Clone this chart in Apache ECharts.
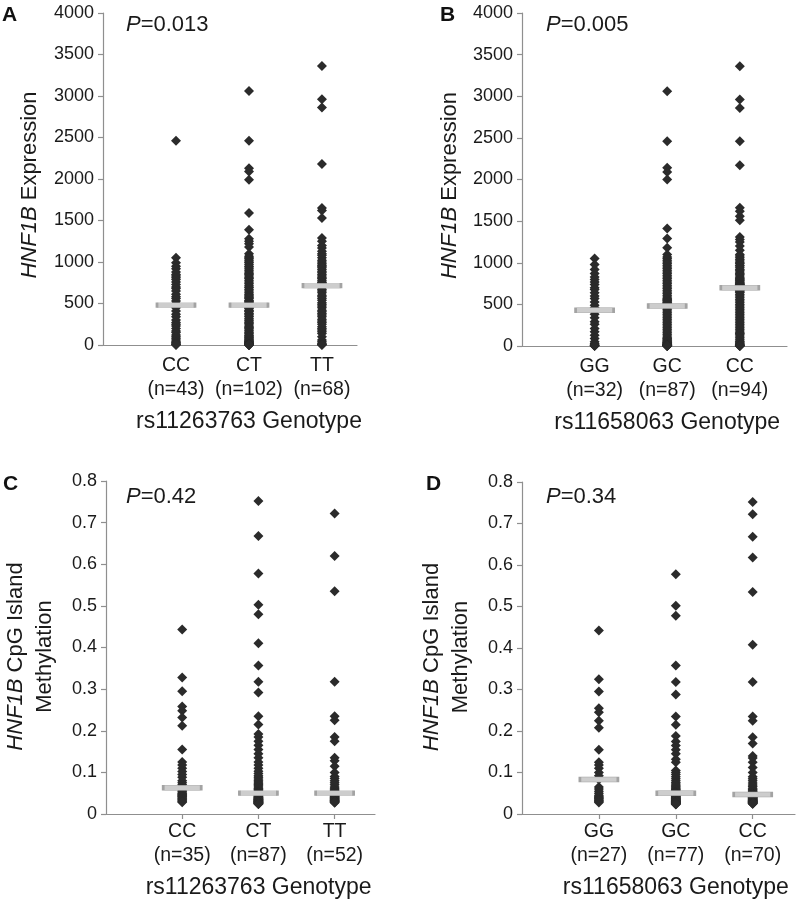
<!DOCTYPE html>
<html>
<head>
<meta charset="utf-8">
<script src="https://cdn.jsdelivr.net/npm/echarts@6/dist/echarts.min.js"></script>
<style>
html,body{margin:0;padding:0;background:#fff;}
#chart{width:799px;height:900px;}
</style>
</head>
<body>
<div id="chart"></div>
<script>
// ---------- Data ----------
var catsA = ['CC', 'CT', 'TT'];
var nA = [43, 102, 68];
var catsB = ['GG', 'GC', 'CC'];
var nB = [32, 87, 94];
var catsC = ['CC', 'CT', 'TT'];
var nC = [35, 87, 52];
var catsD = ['GG', 'GC', 'CC'];
var nD = [27, 77, 70];

var pA = '0.013', pB = '0.005', pC = '0.42', pD = '0.34';
var xTitleA = 'rs11263763 Genotype';
var xTitleB = 'rs11658063 Genotype';
var yTitleExpr = ['HNF1B', ' Expression'];
var yTitleMeth = ['HNF1B', ' CpG Island', 'Methylation'];

var ticksExpr = [0, 500, 1000, 1500, 2000, 2500, 3000, 3500, 4000];
var ticksMeth = [0, 0.1, 0.2, 0.3, 0.4, 0.5, 0.6, 0.7, 0.8];

// Panel A: HNF1B expression by rs11263763
var A_CC = [2460,1050,990,950,920,880,850,830,810,790,760,730,700,680,650,610,580,560,530,500,480,470,450,410,370,340,300,270,250,230,200,170,150,120,100,80,60,40,30,20,10,5,0];
var A_CT = [3060,2460,2130,2090,1990,1590,1390,1280,1250,1220,1180,1100,1070,
  1050,1040,1020,1000,990,970,950,940,920,900,880,860,850,830,810,800,780,760,740,720,700,690,670,650,630,610,600,580,570,560,540,530,520,510,500,495,490,485,
  480,475,460,450,440,420,410,400,380,370,350,340,320,300,290,270,260,240,220,210,200,180,170,150,140,120,110,100,90,80,70,60,50,45,40,35,30,25,20,18,15,12,10,8,6,5,4,3,2,1,0];
var A_TT = [3360,2960,2860,2180,1650,1620,1530,1290,1250,1200,1170,1130,1100,
  1080,1050,1020,1000,980,960,950,930,910,890,870,850,830,810,800,780,760,750,740,730,720,
  710,690,670,650,630,600,580,560,540,510,490,470,450,420,400,380,360,340,310,290,270,250,220,200,180,160,140,100,60,40,20,10,5,0];
var A_median = [480, 480, 715];

// Panel B: HNF1B expression by rs11658063
var B_GG = [1050,980,920,870,830,800,770,740,700,680,640,600,570,530,490,460,420,380,340,290,260,210,170,130,90,50,30,15,10,5,2,0];
var B_GC = [3060,2460,2140,2090,2000,1410,1290,1180,1100,
  1070,1050,1030,1010,990,970,950,930,910,890,870,850,830,810,790,770,750,730,710,690,670,650,630,610,590,570,560,550,540,530,520,510,500,490,
  480,
  470,460,440,420,400,380,360,340,320,300,280,260,240,220,200,180,160,140,120,100,90,80,70,60,50,45,40,35,30,25,20,18,15,12,10,8,6,5,4,3,2,1,0];
var B_CC = [3360,2960,2860,2460,2170,1660,1620,1560,1510,1310,1280,1250,1200,1150,1100,
  1080,1060,1040,1020,1000,990,970,960,940,920,910,890,870,860,840,820,810,800,790,780,770,760,750,745,740,735,730,725,720,715,710,705,
  695,690,680,670,660,650,640,620,600,580,560,540,520,500,480,460,440,420,400,380,360,340,320,300,280,260,240,220,200,180,160,150,140,120,100,80,60,50,40,30,20,15,10,5,3,1,0];
var B_median = [430, 480, 700];

// Panel C: CpG island methylation by rs11263763
var C_CC = [0.443,0.328,0.295,0.258,0.248,0.232,0.212,0.155,0.125,0.118,0.110,0.102,0.095,0.088,0.080,0.075,0.070,
  0.063,0.060,0.058,0.055,0.053,0.050,0.048,0.046,0.045,0.043,0.042,0.040,0.038,0.036,0.034,0.032,0.030,0.028];
var C_CT = [0.752,0.668,0.578,0.503,0.480,0.410,0.357,0.318,0.292,0.235,0.215,0.192,0.185,0.175,0.165,0.155,0.145,0.135,0.125,0.118,
  0.110,0.103,0.097,0.092,0.088,0.084,0.080,0.077,0.074,0.071,0.068,0.065,0.062,0.060,0.058,0.056,0.054,0.053,0.052,0.051,0.0505,0.0502,0.050,
  0.050,
  0.049,0.048,0.047,0.046,0.045,0.044,0.043,0.042,0.041,0.040,0.040,0.039,0.038,0.038,0.037,0.036,0.036,0.035,0.035,0.034,0.034,0.033,0.033,
  0.032,0.032,0.031,0.031,0.030,0.030,0.030,0.029,0.029,0.028,0.028,0.028,0.027,0.027,0.026,0.026,0.025,0.025,0.024,0.024];
var C_TT = [0.722,0.620,0.535,0.318,0.235,0.225,0.185,0.175,0.135,0.128,0.115,0.100,0.090,0.085,0.080,0.075,0.070,0.065,0.062,0.058,
  0.056,0.054,0.053,0.052,0.051,0.050,
  0.050,0.049,0.048,0.047,0.046,0.045,0.044,0.043,0.042,0.041,0.040,0.039,0.038,0.037,0.036,0.035,0.034,0.033,0.032,0.032,0.031,0.030,0.030,0.029,0.028,0.027];
var C_median = [0.063, 0.050, 0.050];

// Panel D: CpG island methylation by rs11658063
var D_GG = [0.442,0.325,0.295,0.255,0.245,0.225,0.208,0.155,0.125,0.118,0.110,0.100,0.092,
  0.083,
  0.065,0.060,0.055,0.050,0.045,0.042,0.040,0.038,0.036,0.034,0.032,0.030,0.028];
var D_GC = [0.578,0.502,0.478,0.358,0.318,0.288,0.235,0.215,0.188,0.175,0.165,0.155,0.145,0.132,0.125,0.105,0.100,0.095,0.090,0.085,
  0.080,0.076,0.072,0.069,0.066,0.063,0.061,0.059,0.057,0.055,0.054,0.053,0.052,0.051,0.0505,0.050,0.050,0.050,
  0.050,
  0.049,0.048,0.047,0.046,0.045,0.044,0.043,0.042,0.041,0.040,0.039,0.038,0.038,0.037,0.036,0.035,0.035,0.034,0.033,0.033,
  0.032,0.031,0.031,0.030,0.030,0.029,0.029,0.028,0.028,0.027,0.027,0.026,0.026,0.025,0.025,0.024,0.024,0.023];
var D_CC = [0.752,0.722,0.668,0.618,0.535,0.408,0.318,0.235,0.225,0.185,0.170,0.140,0.135,0.125,0.112,0.100,0.090,0.085,0.080,0.075,
  0.070,0.066,0.062,0.059,0.056,0.054,0.052,0.051,0.050,0.049,0.048,0.048,0.047,0.047,0.047,
  0.046,0.046,0.045,0.045,0.044,0.043,0.042,0.041,0.040,0.040,0.039,0.038,0.037,0.036,0.036,0.035,0.034,0.034,0.033,0.032,
  0.032,0.031,0.031,0.030,0.030,0.029,0.029,0.028,0.028,0.027,0.027,0.026,0.026,0.025,0.025];
var D_median = [0.083, 0.050, 0.047];

// ---------- Build chart ----------
var FONT = '"Liberation Sans", Arial, Helvetica, sans-serif';
var TXT = '#1a1a1a';
var AXC = '#8f8f8f';

function pts(groups) {
  var out = [];
  groups.forEach(function (g, i) {
    g.forEach(function (v) { out.push([i + 1, v]); });
  });
  return out;
}
function meds(m) { return m.map(function (v, i) { return [i + 1, v]; }); }

var grids = [
  {left: 103, top: 13, width: 254, height: 332},
  {left: 522, top: 13, width: 265, height: 333},
  {left: 103, top: 481, width: 272, height: 333},
  {left: 522, top: 482, width: 273, height: 332}
];
var panels = [
  {cats: catsA, n: nA, groups: [A_CC, A_CT, A_TT], med: A_median, max: 4000, ticks: ticksExpr, xTitle: xTitleA, xmax: 3.48, showTick: false, labMargin: 9, nameGap: 65, yTitle: yTitleExpr, yGap: 59, yShift: 12},
  {cats: catsB, n: nB, groups: [B_GG, B_GC, B_CC], med: B_median, max: 4000, ticks: ticksExpr, xTitle: xTitleB, xmax: 3.65, showTick: false, labMargin: 9, nameGap: 65, yTitle: yTitleExpr, yGap: 58, yShift: 12},
  {cats: catsC, n: nC, groups: [C_CC, C_CT, C_TT], med: C_median, max: 0.8, ticks: ticksMeth, xTitle: xTitleA, xmax: 3.53, showTick: true, labMargin: 6, nameGap: 62, yTitle: yTitleMeth, yGap: 47, yShift: 18},
  {cats: catsD, n: nD, groups: [D_GG, D_GC, D_CC], med: D_median, max: 0.8, ticks: ticksMeth, xTitle: xTitleB, xmax: 3.55, showTick: true, labMargin: 6, nameGap: 62, yTitle: yTitleMeth, yGap: 47, yShift: 18}
];

var xAxes = [], yAxes = [], series = [];
panels.forEach(function (p, k) {
  var shift = 2 * ((2 / p.xmax) * grids[k].width - grids[k].width / 2);
  xAxes.push({
    type: 'value', gridIndex: k, min: 0, max: p.xmax,
    splitLine: {show: false},
    axisLine: {lineStyle: {color: AXC, width: 1.2}},
    axisTick: {show: p.showTick, customValues: [1, 2, 3], length: 5, lineStyle: {color: AXC, width: 1.2}},
    axisLabel: {
      customValues: [1, 2, 3], margin: p.labMargin,
      formatter: function (v) {
        var i = Math.round(v) - 1;
        return p.cats[i] + '\n(n=' + p.n[i] + ')';
      },
      color: TXT, fontSize: 19.5, fontFamily: FONT, lineHeight: 24
    },
    name: p.xTitle, nameLocation: 'middle', nameGap: p.nameGap,
    nameTextStyle: {color: TXT, fontSize: 23, fontFamily: FONT, padding: shift > 0 ? [0, 0, 0, shift] : [0, -shift, 0, 0]}
  });
  var yName;
  if (p.yTitle.length === 2) {
    yName = '{i|' + p.yTitle[0] + '}' + p.yTitle[1];
  } else {
    yName = '{i|' + p.yTitle[0] + '}' + p.yTitle[1] + '\n' + p.yTitle[2];
  }
  yAxes.push({
    type: 'value', gridIndex: k, min: 0, max: p.max, interval: p.max / 8,
    splitLine: {show: false},
    axisLine: {show: true, lineStyle: {color: AXC, width: 1.2}},
    axisTick: {show: true, length: 5, lineStyle: {color: AXC, width: 1.2}},
    axisLabel: {
      margin: 9, color: TXT, fontSize: 18, fontFamily: FONT,
      formatter: function (v) {
        var best = p.ticks.reduce(function (a, b) { return Math.abs(b - v) < Math.abs(a - v) ? b : a; });
        return String(best);
      }
    },
    name: yName, nameLocation: 'middle', nameGap: p.yGap, nameRotate: 90,
    nameTextStyle: {
      color: TXT, fontSize: 22, fontFamily: FONT, lineHeight: 29, padding: [0, p.yShift, 0, 0],
      rich: {i: {fontStyle: 'italic', fontSize: 22, fontFamily: FONT, color: TXT, lineHeight: 29}}
    }
  });
  series.push({
    type: 'scatter', xAxisIndex: k, yAxisIndex: k,
    data: pts(p.groups), symbol: 'diamond', symbolSize: 10,
    itemStyle: {color: '#2b2b2b', opacity: 1}, z: 2, silent: true
  });
  series.push({
    type: 'scatter', xAxisIndex: k, yAxisIndex: k,
    data: meds(p.med), symbol: 'rect', symbolSize: [38, 5],
    itemStyle: {color: '#cdcdcd', borderColor: '#a3a3a3', borderWidth: 1, opacity: 1}, z: 3, silent: true
  });
});

var pRich = {i: {fontStyle: 'italic', fontSize: 22, fontFamily: FONT, color: TXT}};
function pTitle(txt, left, top) {
  return {text: '{i|P}=' + txt, left: left, top: top, padding: 0,
    textStyle: {fontSize: 22, fontWeight: 'normal', fontFamily: FONT, color: TXT, rich: pRich}};
}
function letter(t, left, top) {
  return {text: t, left: left, top: top, padding: 0,
    textStyle: {fontSize: 21, fontWeight: 'bold', fontFamily: FONT, color: '#111'}};
}

var option = {
  animation: false,
  backgroundColor: '#ffffff',
  title: [
    letter('A', 2, 5), letter('B', 440, 5), letter('C', 3, 474), letter('D', 426, 474),
    pTitle(pA, 126, 14), pTitle(pB, 546, 14), pTitle(pC, 126, 486), pTitle(pD, 546, 486)
  ],
  grid: grids,
  xAxis: xAxes,
  yAxis: yAxes,
  series: series
};

var chart = echarts.init(document.getElementById('chart'), null, {renderer: 'canvas'});
chart.setOption(option);
</script>
</body>
</html>
